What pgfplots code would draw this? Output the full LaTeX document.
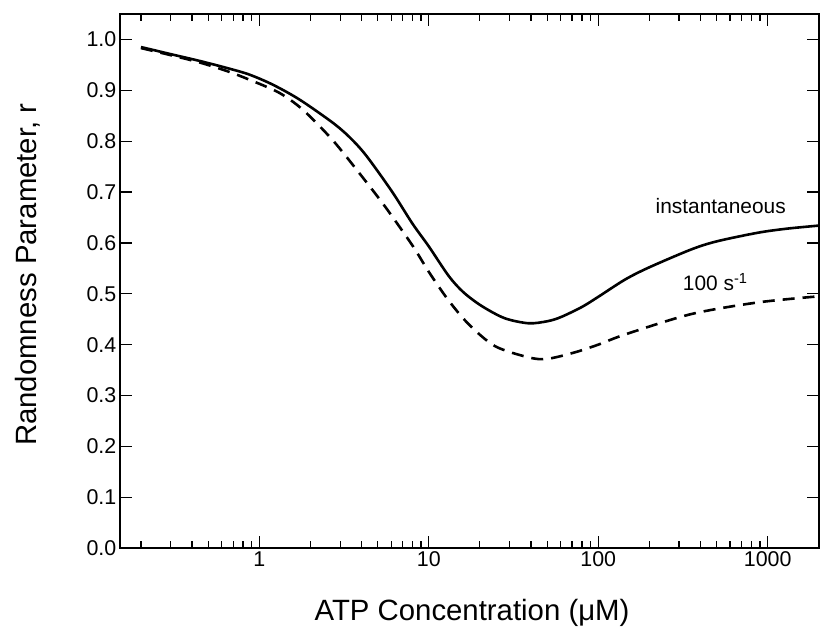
\documentclass[border=0pt]{standalone}
\usepackage{pgfplots}
\pgfplotsset{compat=1.18}
\usepackage{fontspec}
\setmainfont{Liberation Sans}
\newcommand{\tf}{\fontsize{21.5}{24}\selectfont}
\begin{document}
\begin{tikzpicture}
\begin{axis}[
  at={(0,0)}, anchor=south west,
  scale only axis, width=700bp, height=535bp,
  xmode=log, xmin=0.15, xmax=2000,
  ymin=0, ymax=1.05,
  xtick={1,10,100,1000},
  xticklabels={{\tf 1},{\tf 10},{\tf 100},{\tf 1000}},
  minor xtick={0.2,0.3,0.4,0.5,0.6,0.7,0.8,0.9,2,3,4,5,6,7,8,9,20,30,40,50,60,70,80,90,200,300,400,500,600,700,800,900,2000},
  ytick={0,0.1,0.2,0.3,0.4,0.5,0.6,0.7,0.8,0.9,1.0},
  yticklabels={{\tf 0.0},{\tf 0.1},{\tf 0.2},{\tf 0.3},{\tf 0.4},{\tf 0.5},{\tf 0.6},{\tf 0.7},{\tf 0.8},{\tf 0.9},{\tf 1.0}},
  every tick label/.append style={font=\tf},
  tick align=inside,
  major tick length=12bp, minor tick length=7bp,
  every tick/.style={black, line width=1.3bp},
  axis line style={line width=1.8bp},
  xlabel={ATP Concentration (μM)},
  ylabel={Randomness Parameter, r},
  label style={font=\fontsize{29.5}{32}\selectfont},
  every axis x label/.append style={at={(axis description cs:0.504,0)}, anchor=center, yshift=-65bp},
  every axis y label/.append style={at={(axis description cs:-0.132,0.512)}, anchor=center},
  clip=false,
]
\addplot[black, line width=2.6bp, smooth] coordinates {
(0.2,0.985) (0.3,0.971) (0.44,0.958) (0.64,0.944) (0.87,0.931) (1.2,0.911)
(1.72,0.882) (2.69,0.837) (3.4,0.808) (4.26,0.772) (6.06,0.701) (8,0.638) (10,0.593)
(13.1,0.535) (16,0.503) (20.5,0.476) (28,0.452) (38.8,0.442) (50,0.446) (60,0.454) (80,0.474)
(100,0.494) (144,0.528) (200,0.552) (353,0.587) (500,0.603) (875,0.620)
(1300,0.628) (2000,0.634)
};
\addplot[black, line width=2.6bp, smooth, dash pattern=on 12bp off 8bp] coordinates {
(0.2,0.983) (0.3,0.969) (0.44,0.955) (0.64,0.938) (0.87,0.921) (1.31,0.895)
(1.8,0.862) (2.69,0.803) (3.87,0.738) (5.5,0.672) (8,0.595) (10,0.543)
(13,0.488) (17.2,0.440) (24.6,0.397) (38.8,0.375) (50,0.372) (73,0.385)
(100,0.400) (144,0.420) (353,0.460) (875,0.483) (2000,0.495)
};
\node[font=\fontsize{21}{23}\selectfont] at (axis cs:528,0.672) {instantaneous};
\node[font=\fontsize{21}{23}\selectfont] at (axis cs:490,0.523) {100 s\textsuperscript{-1}};
\end{axis}
\path[use as bounding box] (-120bp,-80bp) rectangle (700bp,549bp);
\end{tikzpicture}
\end{document}
